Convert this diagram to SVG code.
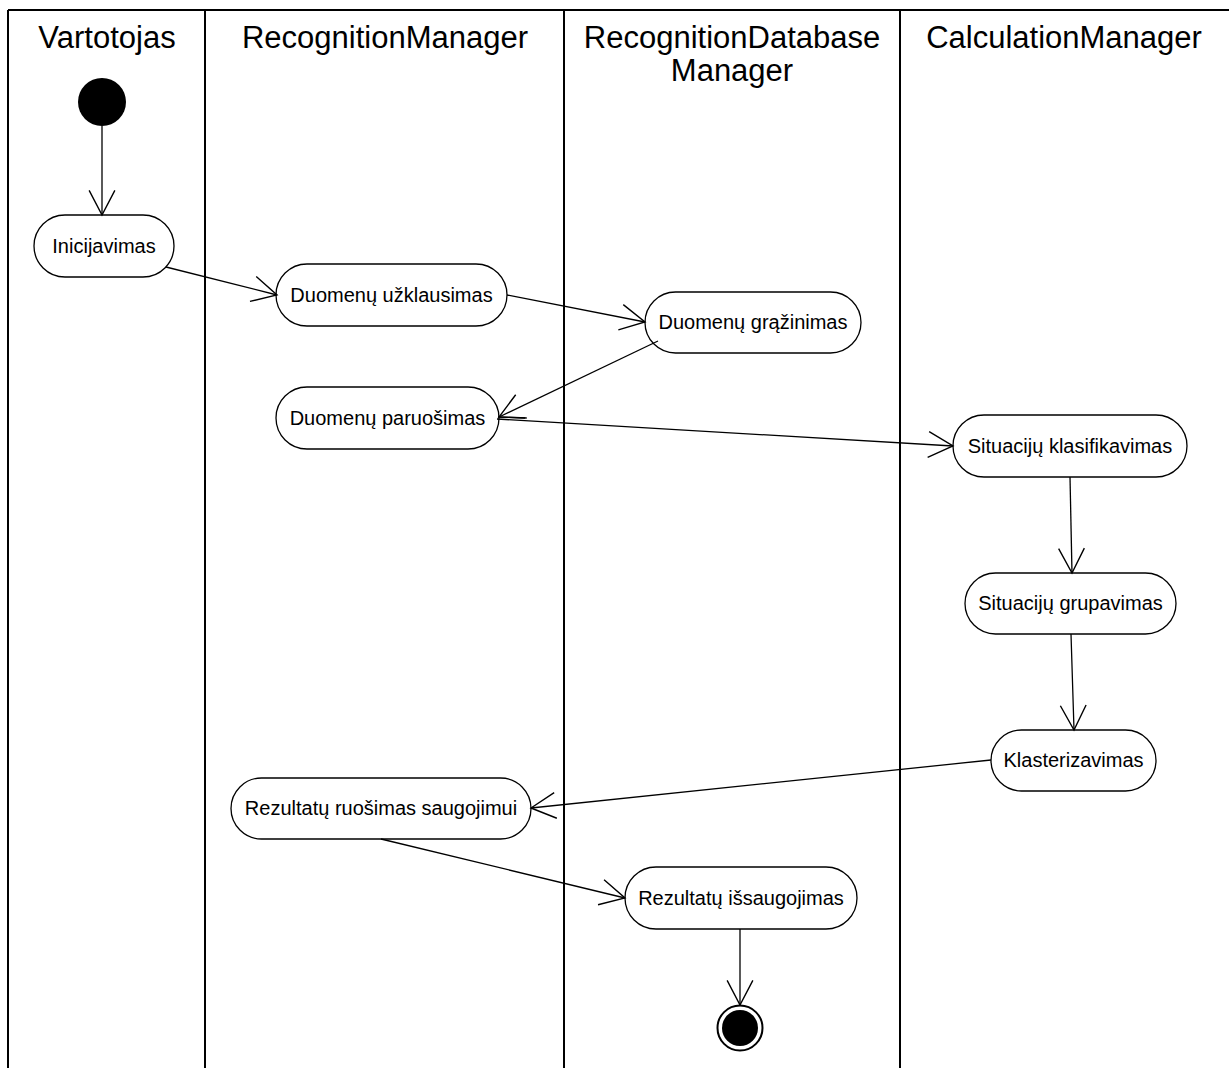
<svg xmlns="http://www.w3.org/2000/svg" width="1229" height="1068" viewBox="0 0 1229 1068">
<style>
.lane{stroke:#000;stroke-width:2;fill:none}
.title{font-family:"Liberation Sans",Arial,sans-serif;font-size:31px;fill:#000;text-anchor:middle}
.node rect{fill:#fff;stroke:#000;stroke-width:1.3}
.node text{font-family:"Liberation Sans",Arial,sans-serif;font-size:20px;fill:#000;text-anchor:middle}
.conn line{stroke:#000;stroke-width:1.3;fill:none}
.arr{marker-end:url(#open)}
</style>
<defs>
<marker id="open" markerUnits="userSpaceOnUse" markerWidth="30" markerHeight="30" viewBox="-25 -14 27 28" refX="0" refY="0" orient="auto">
<path d="M-23,-12 L0,0 L-23,12" fill="none" stroke="#000" stroke-width="1.3"/>
</marker>
</defs>
<rect width="1229" height="1068" fill="#fff"/>
<g id="swimlanes">
<line class="lane" x1="8" y1="10" x2="1229" y2="10"/>
<line class="lane" x1="8" y1="10" x2="8" y2="1068"/>
<line class="lane" x1="205" y1="10" x2="205" y2="1068"/>
<line class="lane" x1="564" y1="10" x2="564" y2="1068"/>
<line class="lane" x1="900" y1="10" x2="900" y2="1068"/>
<text class="title" x="107" y="48">Vartotojas</text>
<text class="title" x="385" y="48">RecognitionManager</text>
<text class="title" x="732" y="48">RecognitionDatabase</text>
<text class="title" x="732" y="81">Manager</text>
<text class="title" x="1064" y="48">CalculationManager</text>
</g>
<g id="start"><circle cx="102" cy="102" r="24" fill="#000"/></g>
<g id="n-inicijavimas" class="node"><rect x="34" y="215" width="140" height="62" rx="31"/><text x="104" y="253">Inicijavimas</text></g>
<g id="n-uzklausimas" class="node"><rect x="276" y="264" width="231" height="62" rx="31"/><text x="391.5" y="302">Duomenų užklausimas</text></g>
<g id="n-grazinimas" class="node"><rect x="645" y="292" width="216" height="61" rx="30.5"/><text x="753" y="329">Duomenų grąžinimas</text></g>
<g id="n-paruosimas" class="node"><rect x="276" y="387" width="223" height="62" rx="31"/><text x="387.5" y="425">Duomenų paruošimas</text></g>
<g id="n-klasifikavimas" class="node"><rect x="953" y="415" width="234" height="62" rx="31"/><text x="1070" y="453">Situacijų klasifikavimas</text></g>
<g id="n-grupavimas" class="node"><rect x="965" y="573" width="211" height="61" rx="30.5"/><text x="1070.5" y="610">Situacijų grupavimas</text></g>
<g id="n-klasterizavimas" class="node"><rect x="991" y="730" width="165" height="61" rx="30.5"/><text x="1073.5" y="767">Klasterizavimas</text></g>
<g id="n-ruosimas" class="node"><rect x="231" y="778" width="300" height="61" rx="30.5"/><text x="381" y="815">Rezultatų ruošimas saugojimui</text></g>
<g id="n-issaugojimas" class="node"><rect x="625" y="867" width="232" height="62" rx="31"/><text x="741" y="905">Rezultatų išsaugojimas</text></g>
<g id="end"><circle cx="740" cy="1028" r="22.5" fill="#fff" stroke="#000" stroke-width="2"/><circle cx="740" cy="1028" r="18" fill="#000"/></g>
<g id="connectors" class="conn">
<line class="arr" x1="102" y1="126" x2="102" y2="215"/>
<line class="arr" x1="166" y1="267" x2="277" y2="295"/>
<line class="arr" x1="507" y1="295" x2="645" y2="322"/>
<line class="arr" x1="658" y1="341" x2="499" y2="417"/>
<line x1="498" y1="417" x2="525" y2="418"/>
<line class="arr" x1="497" y1="419" x2="953" y2="446"/>
<line class="arr" x1="1070" y1="477" x2="1072" y2="573"/>
<line class="arr" x1="1071" y1="634" x2="1074" y2="730"/>
<line class="arr" x1="991" y1="760" x2="531" y2="808"/>
<line class="arr" x1="381" y1="839" x2="625" y2="898"/>
<line class="arr" x1="740" y1="929" x2="740" y2="1005"/>
</g>
</svg>
